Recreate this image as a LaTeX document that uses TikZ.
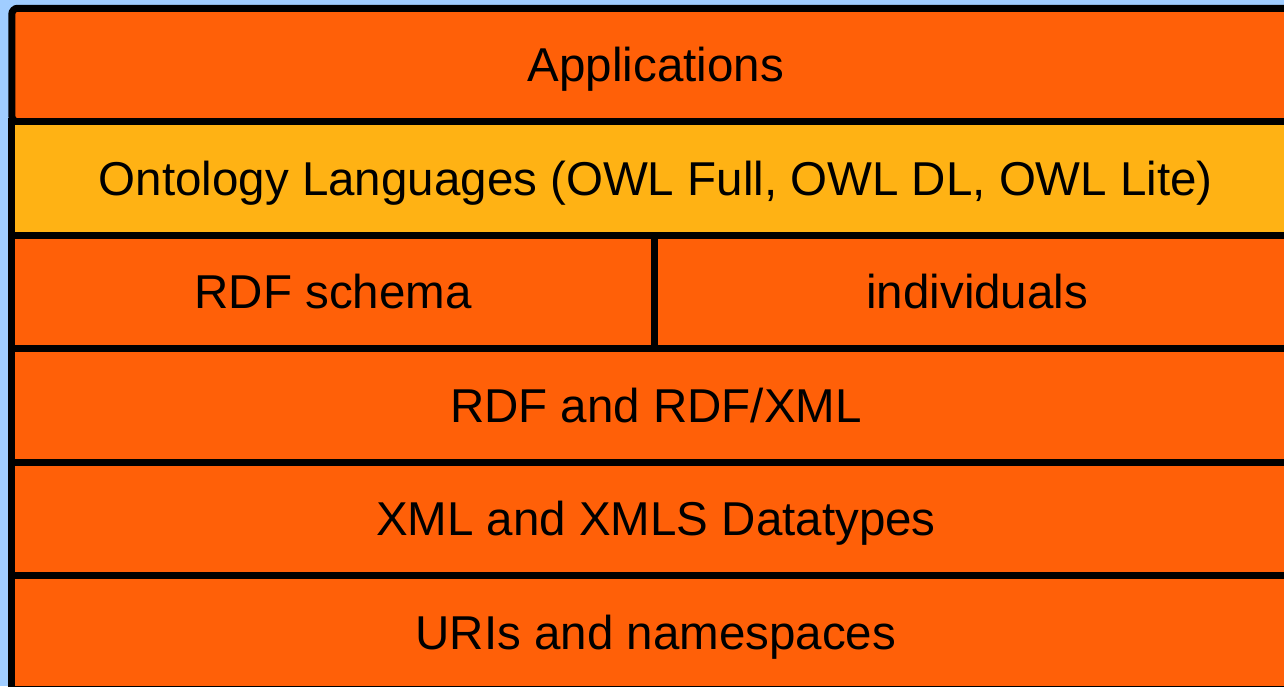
\documentclass[tikz,border=0pt]{standalone}
\usepackage{fontspec}
\setmainfont{Liberation Sans}
\definecolor{skyblue}{RGB}{160,205,255}
\definecolor{layerorange}{RGB}{255,96,8}
\definecolor{layeryellow}{RGB}{255,178,20}
\tikzset{
  layer/.style={draw=black,line width=7pt,fill=layerorange,rectangle,inner sep=0pt,
    minimum height=113.5pt,text height=33pt,text depth=0pt,
    font=\fontsize{47.5}{52}\selectfont}
}
\begin{document}
\begin{tikzpicture}[x=1pt,y=-1pt]
\fill[skyblue] (0,0) rectangle (1284,686);
\useasboundingbox (0,0) rectangle (1284,686);
\clip (0,0) rectangle (1284,686);

\node[layer,rounded corners=6pt,minimum width=1288.2pt] (apps) at (655.9,65) {Applications};
\node[layer,fill=layeryellow,minimum width=1288.2pt] (owl) at (655.9,178.5) {Ontology Languages (OWL Full, OWL DL, OWL Lite)};
\node[layer,minimum width=642.7pt] (rdfs) at (333.15,292) {RDF schema};
\node[layer,minimum width=645.5pt] (indiv) at (977.25,292) {individuals};
\node[layer,minimum width=1288.2pt] (rdf) at (655.9,405.5) {RDF and RDF/XML};
\node[layer,minimum width=1288.2pt] (xml) at (655.9,519) {XML and XMLS Datatypes};
\node[layer,minimum width=1288.2pt] (uri) at (655.9,632.5) {URIs and namespaces};
\end{tikzpicture}
\end{document}
